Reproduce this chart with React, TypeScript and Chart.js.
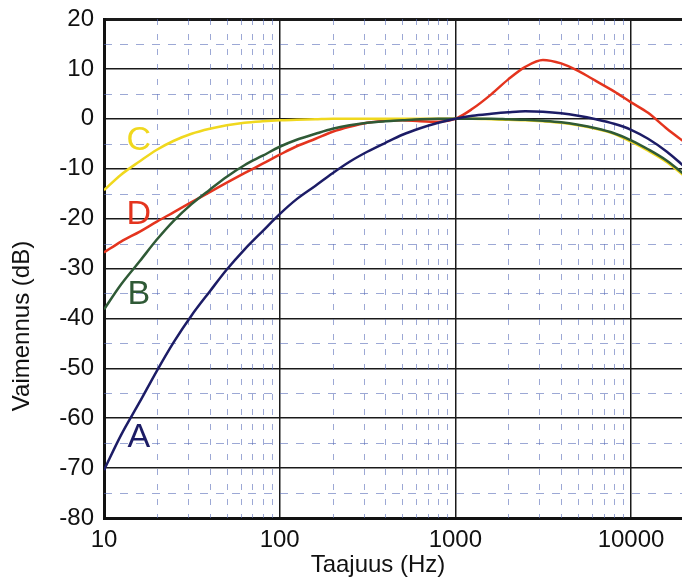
import React, { useEffect, useRef } from "react";
import { Chart, registerables } from "chart.js";

Chart.register(...registerables);

// Frequencies (Hz), 1/3-octave bands
const freqs = [10, 12.5, 16, 20, 25, 31.5, 40, 50, 63, 80, 100, 125, 160, 200, 250, 315, 400, 500, 630, 800, 1000, 1250, 1600, 2000, 2500, 3150, 4000, 5000, 6300, 8000, 10000, 12500, 16000, 20000];

// Weighting curves (dB)
const curveA = [-70.4, -63.4, -56.7, -50.5, -44.7, -39.4, -34.6, -30.2, -26.2, -22.5, -19.1, -16.1, -13.4, -10.9, -8.6, -6.6, -4.8, -3.2, -1.9, -0.8, 0, 0.6, 1.0, 1.3, 1.5, 1.4, 1.1, 0.6, -0.1, -1.0, -2.2, -4.0, -6.6, -9.5];
const curveB = [-38.2, -33.2, -28.5, -24.2, -20.4, -17.1, -14.2, -11.6, -9.3, -7.4, -5.6, -4.2, -3.0, -2.0, -1.3, -0.8, -0.5, -0.3, -0.1, 0, 0, 0, 0, -0.1, -0.2, -0.4, -0.7, -1.2, -1.9, -2.9, -4.3, -6.1, -8.4, -11.1];
const curveC = [-14.3, -11.2, -8.5, -6.2, -4.4, -3.0, -2.0, -1.3, -0.8, -0.5, -0.3, -0.2, -0.1, 0, 0, 0, 0, 0, 0, 0, 0, 0, -0.1, -0.2, -0.3, -0.5, -0.8, -1.3, -2.0, -3.0, -4.6, -6.4, -8.7, -11.4];
const curveD = [-26.8, -24.6, -22.6, -20.6, -18.7, -16.7, -14.7, -12.8, -10.9, -9.0, -7.2, -5.5, -4.0, -2.6, -1.6, -0.8, -0.4, -0.3, -0.5, -0.6, 0, 2.0, 4.9, 7.9, 10.4, 11.8, 11.1, 9.6, 7.6, 5.5, 3.3, 1.2, -2.0, -4.6];

const seriesNames = ["A", "B", "C", "D"];
const seriesValues = [curveA, curveB, curveC, curveD];
const seriesColors = ["#1c1c66", "#2f5a36", "#f0d81e", "#e4341e"];

// Curve label anchors (Hz, dB)
const labelFreq = [15.8, 15.8, 15.8, 15.8];
const labelDb = [-63.8, -35.2, -4.3, -19.2];

const xMajorTicks = [10, 100, 1000, 10000];
const xMinorMult = [2, 3, 4, 5, 6, 7, 8, 9];
const yMinorTicks = [15, 5, -5, -15, -25, -35, -45, -55, -65, -75];

const xTitle = "Taajuus (Hz)";
const yTitle = "Vaimennus (dB)";

const FONT = "'Liberation Sans', Arial, sans-serif";

export default function App() {
  const ref = useRef<HTMLCanvasElement | null>(null);

  useEffect(() => {
    if (!ref.current) return;

    const minorGrid = {
      id: "minorGrid",
      beforeDatasetsDraw(chart: any) {
        const { ctx, chartArea } = chart;
        const xs = chart.scales.x;
        const ys = chart.scales.y;
        ctx.save();
        ctx.beginPath();
        ctx.rect(chartArea.left, chartArea.top, chartArea.right - chartArea.left, chartArea.bottom - chartArea.top);
        ctx.clip();
        ctx.strokeStyle = "rgba(90,110,185,0.6)";
        ctx.lineWidth = 1;
        ctx.setLineDash([6, 9]);
        for (const d of xMajorTicks) {
          for (const m of xMinorMult) {
            const v = d * m;
            if (v > xs.max) continue;
            const px = Math.round(xs.getPixelForValue(v)) + 0.5;
            ctx.beginPath();
            ctx.moveTo(px, chartArea.top);
            ctx.lineTo(px, chartArea.bottom);
            ctx.stroke();
          }
        }
        ctx.setLineDash([8, 8]);
        for (const v of yMinorTicks) {
          const py = Math.round(ys.getPixelForValue(v)) + 0.5;
          ctx.beginPath();
          ctx.moveTo(chartArea.left, py);
          ctx.lineTo(chartArea.right, py);
          ctx.stroke();
        }
        ctx.restore();
      },
    };

    const textPlugin = {
      id: "texts",
      afterDraw(chart: any) {
        const { ctx, chartArea } = chart;
        const xs = chart.scales.x;
        const ys = chart.scales.y;
        ctx.save();
        ctx.textAlign = "center";
        ctx.textBaseline = "middle";
        // curve labels
        ctx.font = `34px ${FONT}`;
        seriesNames.forEach((n, i) => {
          ctx.fillStyle = seriesColors[i];
          ctx.fillText(n, xs.getPixelForValue(labelFreq[i]), ys.getPixelForValue(labelDb[i]));
        });
        // axis titles
        ctx.fillStyle = "#111";
        ctx.font = `24px ${FONT}`;
        ctx.fillText(xTitle, chartArea.left + 274, chart.height - 18);
        ctx.translate(22, chartArea.top + 307);
        ctx.rotate(-Math.PI / 2);
        ctx.fillText(yTitle, 0, 0);
        ctx.restore();
      },
    };

    const chart = new Chart(ref.current, {
      type: "line",
      data: {
        datasets: seriesNames.map((n, i) => ({
          label: n,
          data: freqs.map((f, j) => ({ x: f, y: seriesValues[i][j] })),
          borderColor: seriesColors[i],
          borderWidth: 2.5,
          pointRadius: 0,
          fill: false,
          cubicInterpolationMode: "monotone" as const,
        })),
      },
      options: {
        responsive: false,
        devicePixelRatio: 1,
        animation: false,
        layout: { padding: { top: 19, left: 0, right: 0, bottom: 0 } },
        plugins: { legend: { display: false }, tooltip: { enabled: false } },
        scales: {
          x: {
            type: "logarithmic",
            min: 10,
            max: 19500,
            afterBuildTicks: (scale: any) => {
              scale.ticks = xMajorTicks.map((v) => ({ value: v }));
            },
            afterFit: (scale: any) => {
              scale.height = 65;
              scale.paddingLeft = 0;
              scale.paddingRight = 0;
            },
            ticks: {
              autoSkip: false,
              maxRotation: 0,
              padding: 8,
              color: "#111",
              font: { family: FONT, size: 24 },
              callback: (v: any) => String(v),
            },
            grid: { color: "#1a1a1a", lineWidth: 1.5, drawTicks: false },
            border: { color: "#111", width: 3 },
          },
          y: {
            type: "linear",
            min: -80,
            max: 20,
            afterBuildTicks: (scale: any) => {
              const t = [];
              for (let v = -80; v <= 20; v += 10) t.push({ value: v });
              scale.ticks = t;
            },
            afterFit: (scale: any) => {
              scale.width = 104;
              scale.paddingTop = 0;
              scale.paddingBottom = 0;
            },
            ticks: {
              padding: 10,
              color: "#111",
              font: { family: FONT, size: 24 },
              callback: (v: any) => String(v),
            },
            grid: {
              color: "#1a1a1a",
              lineWidth: (c: any) => (c.tick && c.tick.value === 20 ? 3 : 1.5),
              drawTicks: false,
            },
            border: { color: "#111", width: 3 },
          },
        },
      },
      plugins: [minorGrid, textPlugin],
    });

    return () => chart.destroy();
  }, []);

  return (
    <div style={{ position: "fixed", left: 0, top: 0, width: 682, height: 583, background: "#fff" }}>
      <canvas ref={ref} width={682} height={583} style={{ display: "block" }} />
    </div>
  );
}
